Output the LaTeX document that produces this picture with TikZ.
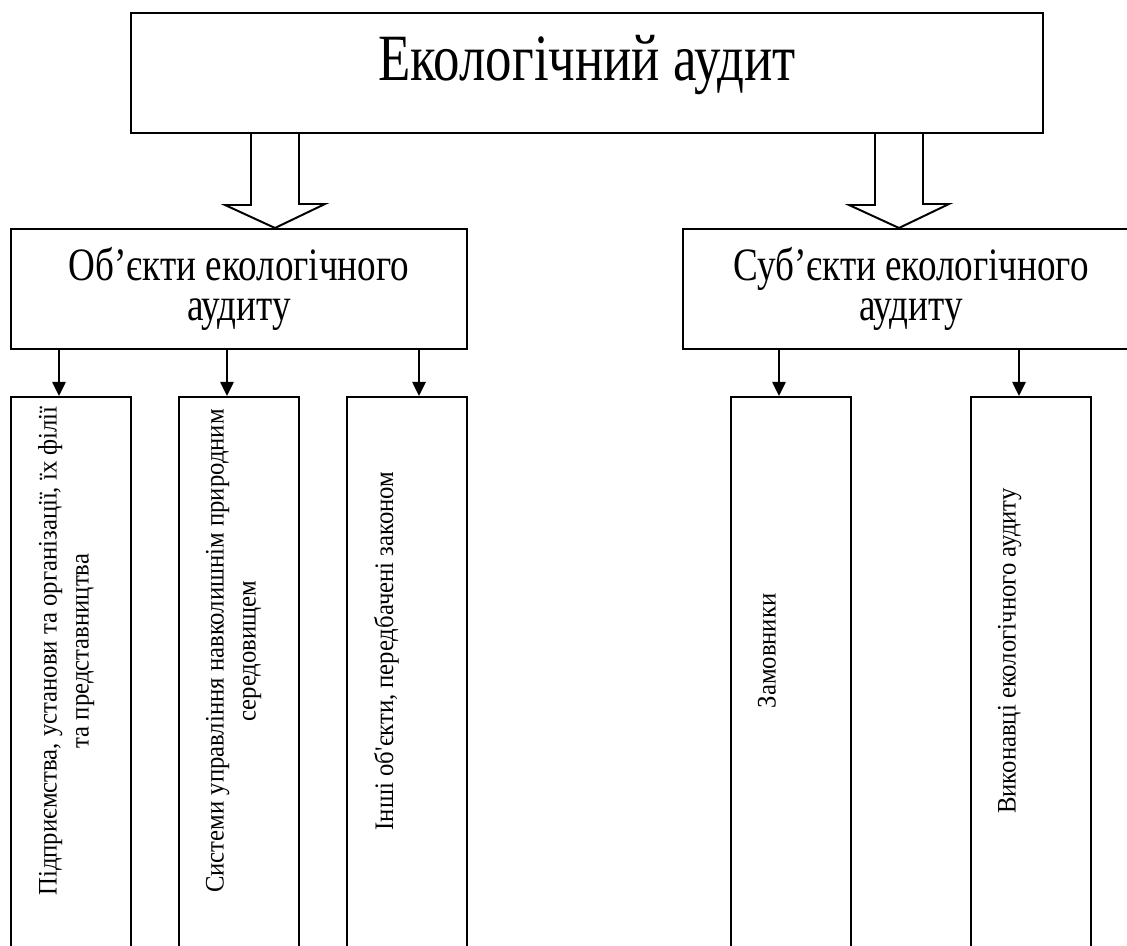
\documentclass[tikz,border=0pt]{standalone}
\usepackage{fontspec}
\setmainfont{Liberation Serif}
\newfontfamily\condfont{Liberation Serif}[FakeStretch=0.8]
\newfontfamily\vertfont{Liberation Serif}[FakeStretch=0.925]
\usetikzlibrary{arrows.meta,calc}

\begin{document}
\begin{tikzpicture}[x=0.025cm,y=0.025cm,line width=1.4pt,
    bigbox/.style={draw,minimum width=22.8cm,minimum height=3cm,text depth=22pt,
      font=\condfont\fontsize{47}{56}\selectfont},
    midbox/.style={draw,minimum width=11.4cm,minimum height=3cm,align=center,
      font=\condfont\fontsize{33}{29}\selectfont},
    smallbox/.style={draw,minimum width=3cm,minimum height=15cm,anchor=north},
    vtext/.style={rotate=90,anchor=north,align=center,inner sep=0pt,
      font=\vertfont\fontsize{19}{22.8}\selectfont},
    arr/.style={-{Triangle[length=0.35cm,width=0.33cm]}}]
        \path[use as bounding box,clip] (0,0) rectangle (1127,946);

        \node[bigbox] (audit) at (587,873) {Екологічний аудит};
        \node[midbox] (obj) at (239,657) {Об’єкти екологічного\\аудиту};
        \node[midbox] (subj) at (911,657) {Суб’єкти екологічного\\аудиту};

        \node[smallbox] (o1) at (71,550) {};
        \node[smallbox] (o2) at (239,550) {};
        \node[smallbox] (o3) at (407,550) {};
        \node[smallbox] (s1) at (791,550) {};
        \node[smallbox] (s2) at (1031,550) {};

        \node[vtext] (o1t) at ($(o1.north west)+(27,-255)$) {Підприємства, установи та організації, їх філії\\та представництва};
        \node[vtext] (o2t) at ($(o2.north west)+(27,-255)$) {Системи управління навколишнім природним\\середовищем};
        \node[vtext] (o3t) at ($(o3.north west)+(27,-255)$) {Інші об\textquotesingle єкти, передбачені законом};
        \node[vtext] (s1t) at ($(s1.north west)+(27,-255)$) {Замовники};
        \node[vtext] (s2t) at ($(s2.north west)+(27,-255)$) {Виконавці екологічного аудиту};

        \coordinate (la) at (275,0);
        \coordinate (ra) at (899,0);
        \draw (audit.south -| la) ++(-24,0) -- ++(0,-71) -- ++(-26,0) -- (obj.north -| la) -- ++(50,24) -- ++(-26,0) -- ++(0,71);
        \draw (audit.south -| ra) ++(-24,0) -- ++(0,-71) -- ++(-26,0) -- (subj.north -| ra) -- ++(50,24) -- ++(-26,0) -- ++(0,71);

        \draw[arr] ([xshift=-0.3cm]o1.north |- obj.south) -- ([xshift=-0.3cm]o1.north);
        \draw[arr] ([xshift=-0.3cm]o2.north |- obj.south) -- ([xshift=-0.3cm]o2.north);
        \draw[arr] ([xshift=0.3cm]o3.north |- obj.south) -- ([xshift=0.3cm]o3.north);
        \draw[arr] ([xshift=-0.3cm]s1.north |- subj.south) -- ([xshift=-0.3cm]s1.north);
        \draw[arr] ([xshift=-0.3cm]s2.north |- subj.south) -- ([xshift=-0.3cm]s2.north);
      \end{tikzpicture}
\end{document}
